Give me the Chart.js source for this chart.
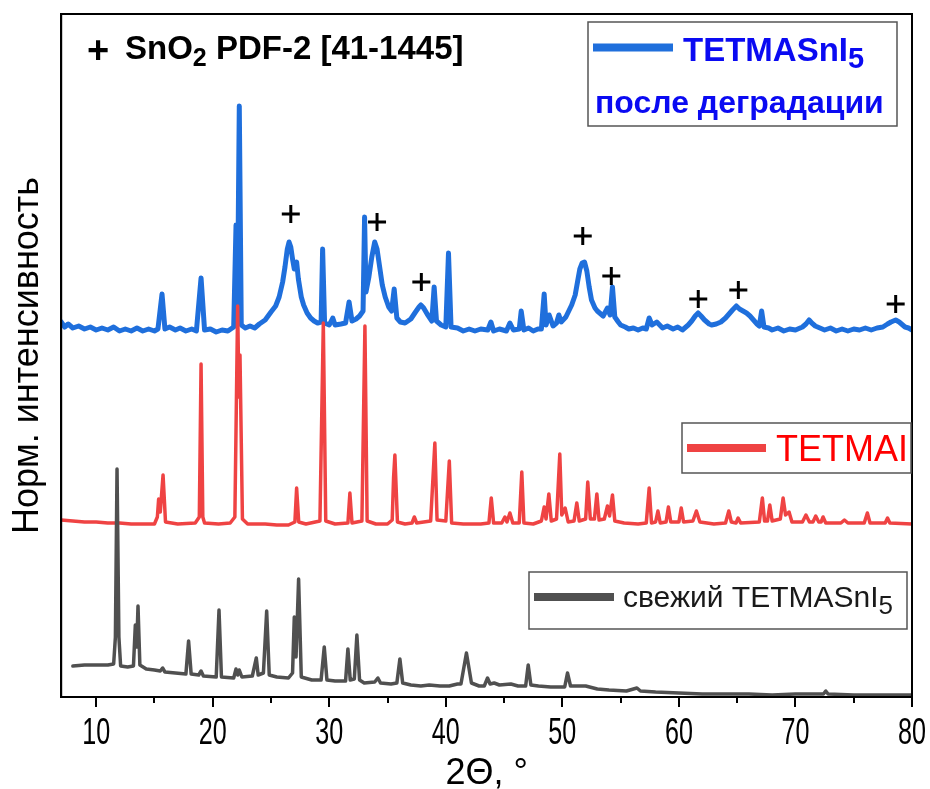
<!DOCTYPE html>
<html>
<head>
<meta charset="utf-8">
<script src="https://cdn.jsdelivr.net/npm/chart.js@4.4.1/dist/chart.umd.min.js"></script>
<style>
  html, body { margin: 0; padding: 0; background: #fff; }
  #wrap { width: 930px; height: 789px; }
</style>
</head>
<body>
<div id="wrap"><canvas id="xrd"></canvas></div>
<script>
// 2theta (deg) / intensity (a.u., patterns already offset for stacking)
const degradedPattern = [
  [7.0, 375], [7.3, 370], [7.6, 373], [8.0, 369], [8.5, 371], [9.0, 368], [9.5, 370], [10.0, 367],
  [10.5, 369], [11.0, 367], [11.5, 370], [12.0, 366], [12.5, 368], [13.0, 366], [13.5, 369], [14.0, 366],
  [14.5, 368], [15.0, 366], [15.3, 368], [15.65, 403], [15.9, 368], [16.3, 370], [16.8, 367], [17.2, 369],
  [17.7, 366], [18.2, 368], [18.6, 366], [19.0, 419], [19.3, 367], [19.8, 368], [20.3, 365], [20.8, 367],
  [21.3, 366], [21.8, 370], [22.0, 472], [22.12, 380], [22.28, 591], [22.45, 372], [22.8, 369], [23.2, 371],
  [23.6, 369], [24.0, 373], [24.5, 377], [25.0, 385], [25.4, 391], [25.7, 400], [26.0, 415], [26.2, 430],
  [26.4, 448], [26.55, 455], [26.7, 450], [26.85, 438], [27.0, 428], [27.2, 435], [27.35, 418], [27.6, 400],
  [27.8, 392], [28.1, 384], [28.4, 379], [28.7, 376], [29.0, 374], [29.3, 375], [29.43, 448], [29.6, 374],
  [30.0, 372], [30.3, 379], [30.5, 372], [31.0, 373], [31.4, 374], [31.7, 395], [31.95, 376], [32.3, 378],
  [32.6, 381], [32.9, 386], [33.03, 480], [33.15, 405], [33.4, 420], [33.65, 440], [33.9, 455], [34.1, 448],
  [34.3, 432], [34.55, 412], [34.8, 400], [35.1, 390], [35.35, 386], [35.57, 408], [35.8, 379], [36.1, 375],
  [36.5, 374], [37.0, 378], [37.4, 385], [37.7, 390], [37.86, 392], [38.1, 389], [38.4, 383], [38.8, 376],
  [39.0, 410], [39.2, 376], [39.6, 372], [40.0, 370], [40.23, 444], [40.45, 370], [41.0, 369], [41.5, 366],
  [42.0, 368], [42.5, 366], [43.0, 368], [43.6, 367], [43.87, 375], [44.1, 366], [44.6, 368], [45.2, 366],
  [45.5, 374], [45.8, 367], [46.3, 368], [46.47, 386], [46.7, 367], [47.1, 369], [47.5, 366], [47.9, 368],
  [48.2, 368], [48.44, 403], [48.6, 372], [48.87, 382], [49.2, 371], [49.5, 374], [49.7, 382], [49.9, 375],
  [50.3, 380], [50.8, 392], [51.1, 402], [51.3, 415], [51.5, 428], [51.7, 434], [51.9, 435], [52.1, 426],
  [52.3, 410], [52.5, 397], [52.8, 389], [53.0, 386], [53.5, 381], [53.87, 389], [54.1, 382], [54.3, 410],
  [54.5, 380], [54.8, 375], [55.0, 372], [55.4, 370], [55.7, 368], [56.1, 369], [56.5, 367], [56.9, 369],
  [57.2, 368], [57.45, 379], [57.7, 372], [58.1, 375], [58.6, 369], [59.0, 371], [59.5, 368], [59.9, 370],
  [60.3, 367], [60.8, 372], [61.1, 376], [61.4, 381], [61.65, 384], [61.9, 381], [62.2, 377], [62.6, 373],
  [62.8, 372], [63.2, 373], [63.6, 375], [64.0, 379], [64.3, 383], [64.6, 387], [64.93, 391], [65.2, 388],
  [65.5, 386], [65.8, 384], [66.1, 381], [66.4, 377], [66.7, 373], [66.9, 371], [67.1, 386], [67.3, 370],
  [67.7, 369], [68.0, 367], [68.5, 369], [69.0, 366], [69.5, 368], [70.0, 367], [70.6, 370], [70.9, 373],
  [71.17, 377], [71.4, 374], [71.7, 371], [72.1, 369], [72.5, 367], [73.0, 369], [73.5, 366], [74.0, 368],
  [74.5, 366], [75.0, 368], [75.5, 367], [76.0, 369], [76.5, 367], [77.0, 369], [77.5, 370], [77.9, 373],
  [78.2, 375], [78.6, 377], [78.9, 375], [79.1, 373], [79.4, 370], [79.7, 369], [80.0, 367]
];

const tetmaiPattern = [
  [7.0, 177], [8.0, 176], [9.0, 175], [10.0, 175], [11.0, 174], [12.0, 174], [13.0, 173], [14.0, 173],
  [15.0, 173], [15.25, 180], [15.36, 198], [15.5, 185], [15.74, 222], [15.95, 175], [17.0, 173], [18.5, 174],
  [18.85, 180], [19.0, 333], [19.15, 180], [19.3, 174], [20.5, 173], [21.5, 174], [21.9, 180], [22.14, 391],
  [22.25, 300], [22.34, 342], [22.55, 178], [23.0, 173], [24.5, 173], [25.5, 172], [26.5, 172], [27.05, 175],
  [27.2, 209], [27.38, 175], [28.0, 173], [29.2, 176], [29.49, 374], [29.7, 176], [30.5, 173], [31.6, 174],
  [31.77, 204], [31.95, 174], [32.8, 176], [33.06, 371], [33.25, 176], [34.0, 173], [35.0, 173], [35.4, 177],
  [35.52, 220], [35.63, 242], [35.85, 175], [36.5, 173], [37.1, 174], [37.3, 180], [37.5, 174], [38.7, 176],
  [39.06, 254], [39.25, 177], [40.0, 176], [40.3, 236], [40.5, 174], [41.5, 173], [43.0, 173], [43.7, 174],
  [43.9, 199], [44.1, 174], [44.8, 174], [45.07, 180], [45.25, 175], [45.5, 184], [45.75, 174], [46.3, 174],
  [46.52, 225], [46.7, 174], [47.5, 173], [48.2, 176], [48.44, 190], [48.6, 178], [48.84, 203], [49.05, 176],
  [49.5, 178], [49.78, 243], [49.95, 182], [50.24, 189], [50.5, 175], [51.0, 176], [51.24, 194], [51.45, 176],
  [52.0, 178], [52.18, 215], [52.4, 178], [52.75, 178], [52.96, 203], [53.15, 177], [53.6, 178], [53.87, 191],
  [54.05, 181], [54.3, 202], [54.5, 176], [55.3, 174], [56.5, 173], [57.2, 174], [57.45, 209], [57.65, 174],
  [58.0, 175], [58.2, 186], [58.4, 174], [58.9, 175], [59.1, 190], [59.3, 175], [60.0, 175], [60.2, 189],
  [60.4, 175], [61.2, 176], [61.5, 186], [61.8, 175], [63.0, 173], [64.0, 174], [64.28, 186], [64.5, 175],
  [64.9, 174], [65.08, 179], [65.3, 174], [66.9, 175], [67.16, 199], [67.35, 176], [67.6, 176], [67.8, 192],
  [68.0, 176], [68.7, 178], [68.94, 199], [69.15, 182], [69.45, 185], [69.7, 175], [70.6, 175], [70.9, 182],
  [71.2, 175], [71.5, 175], [71.74, 181], [72.0, 175], [72.2, 175], [72.37, 180], [72.6, 174], [73.9, 174],
  [74.2, 177], [74.5, 174], [75.9, 174], [76.17, 184], [76.4, 174], [77.7, 174], [77.9, 179], [78.1, 174],
  [80.0, 173]
];

const freshPattern = [
  [8.0, 31], [9.0, 32], [10.0, 32], [11.0, 32], [11.5, 33], [11.65, 60], [11.79, 228], [11.95, 60],
  [12.1, 31], [12.7, 30], [13.2, 31], [13.36, 72], [13.48, 50], [13.59, 91], [13.75, 32], [14.3, 28],
  [15.0, 27], [15.5, 26], [15.7, 29], [15.9, 25], [16.8, 24], [17.7, 23], [17.93, 56], [18.15, 23],
  [18.8, 22], [19.0, 26], [19.2, 21], [20.3, 20], [20.54, 87], [20.75, 20], [21.8, 19], [22.0, 28],
  [22.15, 22], [22.28, 27], [22.5, 20], [23.4, 21], [23.74, 39], [23.9, 22], [24.35, 24], [24.63, 86],
  [24.85, 22], [25.5, 20], [26.5, 19], [26.85, 24], [27.0, 80], [27.15, 40], [27.37, 118], [27.6, 20],
  [28.5, 17], [29.3, 17], [29.57, 50], [29.8, 17], [30.5, 16], [31.4, 16], [31.6, 48], [31.8, 17],
  [32.15, 18], [32.37, 62], [32.6, 17], [33.0, 14], [33.9, 15], [34.17, 19], [34.4, 14], [35.3, 13],
  [35.8, 14], [36.06, 38], [36.3, 14], [37.0, 12], [37.86, 11], [38.58, 12], [39.5, 11], [40.3, 11],
  [41.0, 13], [41.3, 13], [41.77, 44], [42.2, 14], [42.86, 11], [43.3, 11], [43.58, 19], [43.8, 13],
  [44.15, 14], [44.6, 12], [45.58, 13], [46.2, 11], [46.85, 11], [47.07, 32], [47.3, 12], [47.95, 11],
  [49.0, 10], [50.2, 10], [50.44, 24], [50.7, 11], [52.0, 11], [53.0, 8], [54.0, 7], [55.5, 6],
  [56.4, 9], [56.7, 6], [58.0, 5], [60.0, 4], [62.0, 3], [64.0, 3], [66.0, 3], [68.0, 2],
  [70.0, 3], [72.4, 3], [72.6, 6], [72.8, 3], [75.0, 2], [78.0, 2], [80.0, 2]
];

// SnO2 reflections (PDF-2 41-1445) marked over the degraded pattern
const sno2Marks = [
  [26.7, 483], [34.1, 475], [37.9, 415], [51.75, 461], [54.2, 421], [61.66, 398], [65.1, 407], [78.6, 393]
];

const majorTicks = [10, 20, 30, 40, 50, 60, 70, 80];
const minorTicks = [15, 25, 35, 45, 55, 65, 75];

const seriesLabels = ["TETMASnI5 после деградации", "TETMAI", "свежий TETMASnI5"];
const seriesColors = ["#1f6fdc", "#ef4343", "#505050"];

const FONT = '"Liberation Sans", Arial, sans-serif';

function toPoints(pairs) {
  return pairs.map(function (p) { return { x: p[0], y: p[1] }; });
}

// text with an optional subscript part
function drawRuns(ctx, x, y, runs) {
  runs.forEach(function (r) {
    ctx.font = r.font;
    ctx.fillText(r.t, x, y + (r.dy || 0));
    x += ctx.measureText(r.t).width;
  });
}

const legendBoxes = [
  {
    box: [588, 22, 309, 104], line: [593, 673, 47.5], color: seriesColors[0], textColor: "#0a0af2",
    rows: [
      { x: 683, y: 61, runs: [{ t: "TETMASnI", font: "bold 33px " + FONT }, { t: "5", font: "bold 29px " + FONT, dy: 7 }] },
      { x: 595, y: 113, runs: [{ t: "после деградации", font: "bold 32px " + FONT }] }
    ]
  },
  {
    box: [682, 423, 229, 50], line: [687, 766, 448], color: seriesColors[1], textColor: "#ff0000",
    rows: [{ x: 776, y: 461, runs: [{ t: "TETMAI", font: "36px " + FONT }] }]
  },
  {
    box: [529, 572, 378, 57], line: [534, 614, 597], color: seriesColors[2], textColor: "#1a1a1a",
    rows: [{ x: 623, y: 607, runs: [{ t: "свежий TETMASnI", font: "30px " + FONT }, { t: "5", font: "26px " + FONT, dy: 7 }] }]
  }
];

const decorations = {
  id: "decorations",
  afterDraw(chart) {
    const ctx = chart.ctx;
    const a = chart.chartArea;
    const x = chart.scales.x;
    ctx.save();

    // frame
    ctx.strokeStyle = "#000";
    ctx.lineWidth = 2;
    ctx.strokeRect(a.left, a.top, a.right - a.left, a.bottom - a.top);

    // x ticks, outward
    ctx.beginPath();
    majorTicks.forEach(function (v) {
      const px = Math.round(x.getPixelForValue(v));
      ctx.moveTo(px, a.bottom);
      ctx.lineTo(px, a.bottom + 10);
    });
    minorTicks.forEach(function (v) {
      const px = Math.round(x.getPixelForValue(v));
      ctx.moveTo(px, a.bottom);
      ctx.lineTo(px, a.bottom + 6);
    });
    ctx.stroke();

    // tick labels (condensed)
    ctx.fillStyle = "#000";
    ctx.textAlign = "center";
    ctx.textBaseline = "alphabetic";
    ctx.font = "37px " + FONT;
    majorTicks.forEach(function (v) {
      const px = x.getPixelForValue(v);
      ctx.save();
      ctx.translate(px, a.bottom + 47);
      ctx.scale(0.68, 1);
      ctx.fillText(String(v), 0, 0);
      ctx.restore();
    });

    // x title
    ctx.font = "36px " + FONT;
    ctx.fillText("2Θ, °", (a.left + a.right) / 2, a.bottom + 87);

    // SnO2 reference note
    ctx.font = "bold 38px " + FONT;
    ctx.fillText("+", 98, 63);
    ctx.textAlign = "left";
    drawRuns(ctx, 125, 59, [
      { t: "SnO", font: "bold 33px " + FONT },
      { t: "2", font: "bold 25px " + FONT, dy: 7 },
      { t: " PDF-2 [41-1445]", font: "bold 33px " + FONT }
    ]);

    // legend boxes
    legendBoxes.forEach(function (lb) {
      ctx.fillStyle = "#fff";
      ctx.fillRect(lb.box[0], lb.box[1], lb.box[2], lb.box[3]);
      ctx.strokeStyle = "#555";
      ctx.lineWidth = 1.5;
      ctx.strokeRect(lb.box[0], lb.box[1], lb.box[2], lb.box[3]);
      ctx.strokeStyle = lb.color;
      ctx.lineWidth = 8;
      ctx.lineCap = "butt";
      ctx.beginPath();
      ctx.moveTo(lb.line[0], lb.line[2]);
      ctx.lineTo(lb.line[1], lb.line[2]);
      ctx.stroke();
      ctx.fillStyle = lb.textColor;
      lb.rows.forEach(function (row) { drawRuns(ctx, row.x, row.y, row.runs); });
    });

    ctx.restore();
  }
};

const lineStyle = {
  pointRadius: 0,
  tension: 0,
  fill: false,
  borderJoinStyle: "round",
  borderCapStyle: "round"
};

new Chart(document.getElementById("xrd"), {
  type: "line",
  data: {
    datasets: [
      {
        label: "SnO2",
        data: toPoints(sno2Marks),
        showLine: false,
        pointStyle: "cross",
        pointRadius: 9,
        pointBorderWidth: 3,
        pointBorderColor: "#000",
        pointBackgroundColor: "#000"
      },
      Object.assign({ label: seriesLabels[2], data: toPoints(freshPattern), borderColor: seriesColors[2], borderWidth: 3.5 }, lineStyle),
      Object.assign({ label: seriesLabels[1], data: toPoints(tetmaiPattern), borderColor: seriesColors[1], borderWidth: 3.5 }, lineStyle),
      Object.assign({ label: seriesLabels[0], data: toPoints(degradedPattern), borderColor: seriesColors[0], borderWidth: 5 }, lineStyle)
    ]
  },
  options: {
    responsive: true,
    maintainAspectRatio: false,
    animation: false,
    layout: { padding: { left: 4, right: 18, top: 14, bottom: 92 } },
    plugins: {
      legend: { display: false },
      tooltip: { enabled: false }
    },
    scales: {
      x: {
        type: "linear",
        min: 7,
        max: 80,
        grid: { display: false, drawTicks: false },
        border: { display: true, color: "#000", width: 2 },
        ticks: { display: false }
      },
      y: {
        min: 0,
        max: 683,
        grid: { display: false, drawTicks: false },
        border: { display: true, color: "#000", width: 2 },
        ticks: { display: false },
        title: {
          display: true,
          text: "Норм. интенсивность",
          color: "#000",
          font: { family: FONT, size: 36 },
          padding: { top: 2, bottom: 12 }
        }
      }
    }
  },
  plugins: [decorations]
});
</script>
</body>
</html>
